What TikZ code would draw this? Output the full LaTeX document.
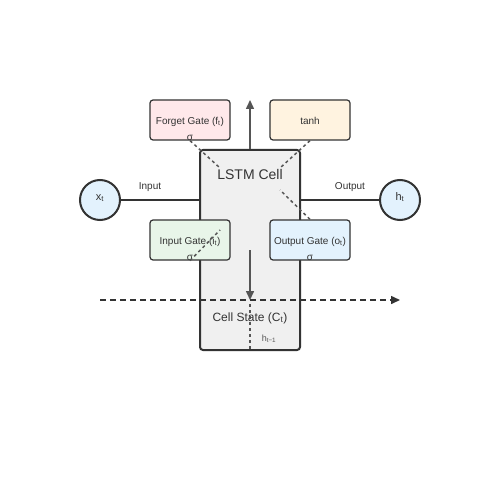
\documentclass[tikz,border=0pt]{standalone}
\usepackage{fontspec}
\setmainfont{Liberation Sans}
\usetikzlibrary{arrows.meta}
\definecolor{edgecol}{HTML}{333333}
\definecolor{linecol}{HTML}{555555}
\definecolor{forgetfill}{HTML}{FFE8EA}
\definecolor{inputfill}{HTML}{E8F5E9}
\definecolor{outputfill}{HTML}{E3F2FD}
\definecolor{tanhfill}{HTML}{FFF3E0}
\definecolor{cellfill}{HTML}{F0F0F0}
\definecolor{circfill}{HTML}{E3F2FD}
\tikzset{
  cellbox/.style={draw=edgecol, line width=2bp, fill=cellfill, rounded corners=3bp, minimum width=100bp, minimum height=200bp, inner sep=0},
  gatebox/.style={draw=edgecol, line width=1.2bp, rounded corners=3bp, minimum width=80bp, minimum height=40bp, inner sep=0},
  iocirc/.style={circle, draw=edgecol, line width=2bp, fill=circfill, minimum size=40bp, inner sep=0},
  txt/.style={inner sep=0, anchor=base, text=edgecol, font=\fontsize{10bp}{12bp}\selectfont},
  conn/.style={draw=edgecol, line width=2bp},
  arr/.style={draw=linecol, line width=1.5bp, -{Triangle[length=9bp,width=8bp]}},
  dotln/.style={draw=linecol, line width=1.5bp, dash pattern=on 3bp off 3bp},
  statearr/.style={draw=edgecol, line width=1.5bp, dash pattern=on 6bp off 4bp, -{Triangle[length=9bp,width=8bp]}},
}
\begin{document}
\begin{tikzpicture}[x=1bp,y=-1bp]
\useasboundingbox[fill=white] (0,0) rectangle (500,500);
% main cell
\node[cellbox] (cell) at (250,250) {};
\node[txt, font=\fontsize{14bp}{16bp}\selectfont] (celltitle) at (250,180) {LSTM Cell};
% gates
\node[gatebox, fill=forgetfill] (forget) at (190,120) {};
\node[txt] (ftxt) at (190,124.5) {Forget Gate (f\textsubscript{t})};
\node[txt] (fsig) at (190,140.5) {σ};
\node[gatebox, fill=tanhfill] (tanh) at (310,120) {};
\node[txt] (ttxt) at (310,124.5) {tanh};
\node[gatebox, fill=inputfill] (input) at (190,240) {};
\node[txt] (itxt) at (190,244.5) {Input Gate (i\textsubscript{t})};
\node[txt] (isig) at (190,260.5) {σ};
\node[gatebox, fill=outputfill] (output) at (310,240) {};
\node[txt] (otxt) at (310,244.5) {Output Gate (o\textsubscript{t})};
\node[txt] (osig) at (310,260.5) {σ};
% io circles
\node[iocirc] (xt) at (100,200) {};
\node[txt, font=\fontsize{11bp}{13bp}\selectfont] (xtxt) at (100,200) {x\textsubscript{t}};
\node[iocirc] (ht) at (400,200) {};
\node[txt, font=\fontsize{11bp}{13bp}\selectfont] (htxt) at (400,200) {h\textsubscript{t}};
% connections
\draw[conn] (xt.east) -- (cell.west |- xt.center);
\node[txt] (inlbl) at (150,190) {Input};
\draw[conn] (cell.east |- ht.center) -- (ht.west);
\node[txt] (outlbl) at (350,190) {Output};
% arrows
\coordinate (uptip) at (250,100);
\draw[arr] (cell.north) -- (uptip);
\coordinate (dnstart) at (250,250);
\coordinate (dnend) at (250,300);
\draw[arr] (dnstart) -- (dnend);
% cell state
\coordinate (csl) at (100,300);
\coordinate (csr) at (400,300);
\draw[statearr] (csl) -- (csr);
\node[txt, font=\fontsize{12bp}{14bp}\selectfont] (cstate) at (250,321) {Cell State (C\textsubscript{t})};
\coordinate (vtop) at (250,304);
\draw[dotln] (vtop) -- (cell.south);
\node[txt, text=linecol, font=\fontsize{9bp}{11bp}\selectfont] (hprev) at (269,341) {h\textsubscript{t−1}};
% dotted diagonals
\coordinate (fend) at (220,168);
\draw[dotln] (forget.south) -- (fend);
\coordinate (tend) at (280,168);
\draw[dotln] (tanh.south) -- (tend);
\coordinate (oend) at (280,190);
\draw[dotln] (output.north) -- (oend);
\coordinate (iend) at (220,230);
\draw[dotln] (input.south) -- (iend);
\end{tikzpicture}
\end{document}
